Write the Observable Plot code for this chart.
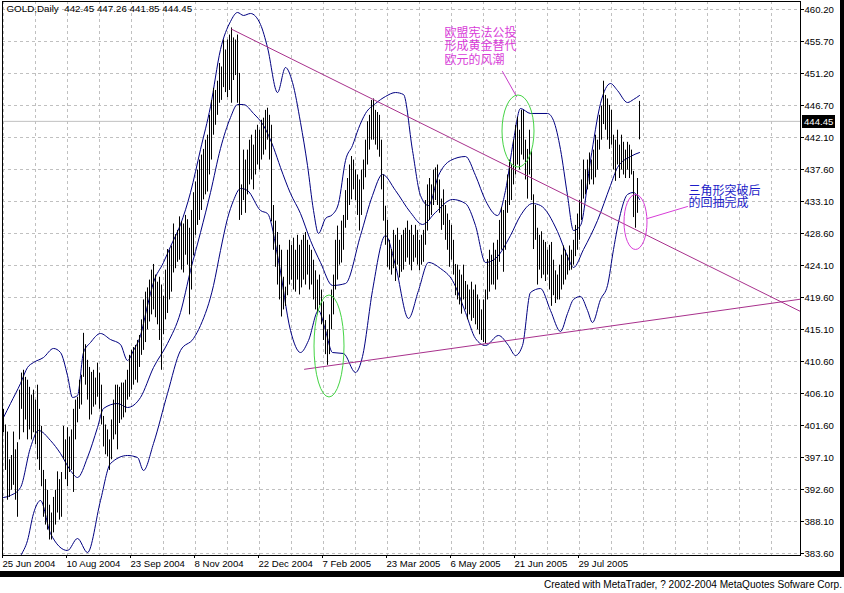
<!DOCTYPE html>
<html><head><meta charset="utf-8">
<script src="https://cdn.jsdelivr.net/npm/d3@7"></script>
<script src="https://cdn.jsdelivr.net/npm/@observablehq/plot@0.6"></script>
<style>
body{margin:0;background:#fff;}
#wrap{position:relative;width:844px;height:593px;overflow:hidden;background:#fff;font-family:'Liberation Sans',Arial,sans-serif;}
#bottomBar{position:absolute;left:0;top:571px;width:844px;height:6px;background:#000;}
#rightBar{position:absolute;left:840px;top:0;width:4px;height:577px;background:#000;}
#footer{position:absolute;right:2px;top:579px;font-size:10.1px;color:#000;white-space:nowrap;}
#priceTag{position:absolute;left:802px;width:33px;height:13px;background:#000;color:#fff;font-size:9.6px;line-height:13px;padding-left:2px;box-sizing:border-box;}
</style></head><body><div id="wrap"><div id="chart"></div><div id="rightBar"></div><div id="bottomBar"></div><div id="priceTag"></div><div id="footer">Created with MetaTrader, ? 2002-2004 MetaQuotes Sofware Corp.</div></div>
<script>
// ---- data ----
const symbolTitle = "GOLD,Daily";
const lastOpen = 442.45, lastClose = 444.45;
const highs = [
403.9,401.7,400.7,396.8,397.4,400.7,398.2,399.2,406.6,409.0,
409.4,408.4,408.0,407.0,405.9,406.6,405.2,407.3,403.9,401.5,
395.3,394.0,392.5,390.4,389.3,391.5,392.5,395.1,394.0,395.0,
401.5,399.6,401.3,400.0,401.0,403.9,405.2,405.6,408.0,408.7,
414.6,413.0,410.8,409.8,409.1,409.4,408.3,410.4,409.0,407.3,
402.9,401.7,401.0,399.6,402.4,405.2,407.3,407.3,407.0,407.6,
407.6,408.0,409.4,411.5,412.2,412.6,412.9,413.6,414.3,416.5,
419.3,420.4,421.0,422.1,423.5,424.3,422.8,421.8,422.5,421.4,
419.8,423.5,426.4,426.3,426.9,430.0,428.5,429.1,431.0,430.3,
430.0,431.2,430.6,429.4,431.9,434.4,435.9,437.6,439.0,439.7,
440.5,441.8,442.5,445.3,447.4,449.1,448.8,450.1,452.6,452.1,
455.9,454.5,455.9,456.6,457.6,456.2,455.9,456.6,451.2,435.5,
440.4,439.0,440.4,441.8,442.5,441.1,443.2,443.9,443.2,444.6,
444.9,446.0,446.3,445.3,443.9,432.6,430.4,428.8,427.0,426.3,
422.5,421.1,426.3,427.7,427.0,428.0,426.3,428.4,427.0,427.7,
428.4,428.8,427.7,427.0,426.3,424.9,423.4,422.1,422.8,420.7,
419.0,416.4,415.1,417.2,420.7,422.8,427.7,429.7,427.7,430.4,
431.2,434.7,436.4,438.3,439.5,439.0,437.6,436.9,436.2,437.6,
439.0,441.8,444.4,445.3,447.4,447.6,446.0,445.7,445.3,441.8,
436.9,432.5,430.5,427.7,426.4,429.1,428.4,429.4,427.7,428.4,
429.1,429.4,430.4,429.1,429.8,428.4,429.8,429.1,427.7,428.4,
429.1,433.3,435.5,436.4,435.5,437.6,437.9,438.3,436.2,433.5,
434.8,432.6,431.4,430.5,429.8,427.7,424.3,424.2,423.5,422.8,
424.2,421.9,421.4,420.7,421.8,420.7,421.4,420.0,419.3,417.9,
419.3,420.7,425.0,426.3,425.6,427.3,426.3,427.7,430.5,432.3,
431.9,433.3,436.9,439.0,438.3,441.8,443.9,445.0,443.2,446.0,
446.0,441.8,440.5,443.2,440.4,434.1,432.6,429.4,428.4,428.9,
427.7,427.4,426.3,427.0,427.4,424.9,423.4,422.8,424.2,425.6,
426.9,426.3,425.6,426.9,426.3,427.7,429.8,431.4,433.3,436.2,
439.0,437.6,439.0,440.0,439.0,440.4,442.5,441.8,445.3,446.6,
450.1,448.1,447.6,446.7,446.0,442.5,441.8,443.2,441.1,442.5,
441.5,440.4,441.5,441.1,440.4,437.4,434.1,436.4,447.26];
const lows = [
400.6,395.3,391.1,391.5,392.5,393.2,391.1,388.7,399.6,403.9,
400.6,402.4,399.6,401.0,399.6,400.6,398.9,396.8,395.3,393.0,
388.7,387.6,386.9,385.5,385.5,386.5,387.6,389.3,388.3,388.7,
396.8,394.0,393.0,395.0,395.3,392.2,399.6,402.0,403.9,404.5,
408.4,407.3,405.2,402.4,403.1,404.2,404.5,405.6,403.9,401.7,
398.6,397.5,397.2,395.3,396.8,399.6,400.3,398.2,401.9,402.4,
402.7,403.4,405.2,405.6,406.6,407.3,408.0,407.6,409.8,411.5,
412.2,413.3,415.1,416.2,417.2,417.9,416.8,415.8,413.6,409.4,
414.4,416.5,417.4,419.3,420.4,423.1,423.7,424.6,424.9,423.5,
423.1,425.6,424.2,417.2,420.7,425.5,428.4,429.8,430.5,431.9,
433.4,434.1,434.5,436.9,439.0,442.5,443.9,445.3,447.0,447.4,
449.2,448.5,447.8,448.8,447.0,450.2,450.9,447.0,430.5,431.2,
433.3,431.5,434.1,435.5,436.2,434.8,436.9,438.3,437.6,439.0,
439.7,440.4,441.8,439.0,430.3,426.3,423.9,421.4,419.3,416.9,
417.9,418.4,419.9,421.4,422.1,420.7,420.4,422.1,420.0,421.0,
422.1,421.4,422.8,420.7,421.4,419.3,417.9,417.2,418.5,415.8,
413.6,411.6,410.1,411.6,415.1,417.2,420.7,422.1,424.2,424.5,
426.3,429.4,430.5,432.6,433.4,434.8,433.3,431.2,429.0,431.2,
434.8,436.5,438.3,440.4,441.8,441.8,441.1,440.4,439.4,434.8,
430.4,427.0,423.9,423.5,422.8,423.7,421.9,424.2,422.4,423.2,
423.5,424.6,425.2,424.2,423.4,424.6,425.2,424.2,423.4,424.2,
424.6,427.0,429.0,430.5,431.2,432.6,433.3,432.6,431.5,429.1,
429.8,427.7,426.3,423.9,424.9,422.8,419.9,419.3,418.6,417.3,
419.3,417.9,416.5,417.2,416.3,416.7,415.8,415.1,414.4,413.6,
413.3,413.1,419.3,420.4,421.4,421.4,420.7,422.1,424.6,426.3,
423.2,426.3,431.5,432.6,433.3,435.5,436.9,438.3,437.6,439.7,
439.0,436.2,433.5,436.9,433.3,426.4,427.7,421.4,423.5,422.3,
422.8,421.9,422.8,420.7,418.4,419.9,418.8,419.3,419.3,420.7,
421.4,422.1,422.8,423.4,423.5,424.2,425.4,426.3,427.7,430.5,
433.5,434.1,434.8,435.5,436.2,435.5,436.5,437.6,440.4,441.8,
444.0,443.2,441.8,440.5,441.1,437.6,436.0,438.3,436.4,437.6,
436.9,436.4,437.6,436.4,436.9,430.9,429.4,431.5,441.85];

// Bollinger bands (bar index, price)
const upperBars = [0,3.5,8.5,12,15,20,25,28.5,32,34.5,37,40,43.5,48.5,53.5,58.5,62,65,68.5,72,75,80,83.5,88.5,93.5,98.5,103.5,108.5,113.5,117,120,123.5,128.5,132,137,141,144.5,148.5,152,155,157.5,161,164.5,167.5,171,174.5,177.5,181,186,191,196,200,204.5,208.5,212.5,217.5,223.5,231,236,241,247,251,255,258.5,263.5,272,275,278.5,282,285,288.5,293.5,298.5,303.5,307,312,315,318];
const upperVals = [402.75,404.72,407.54,409.79,410.49,411.2,412.47,411.9,408.66,405.57,405.85,411.9,413.31,414.58,413.73,413.03,410.78,412.18,414.3,418.52,421.76,424.58,426.83,429.93,434.43,440.49,446.54,454.57,458.51,459.78,459.36,459.64,458.09,454.85,448.51,452.03,449.92,444.29,438.23,431.9,428.66,430.77,431.33,432.88,438.94,441.05,443.44,445.56,446.96,447.95,448.51,448.23,440.35,434.01,432.6,436.83,438.94,439.5,436.83,433.31,431.19,434.71,441.75,446.26,445.56,445.56,444.57,440.49,434.01,429.08,429.78,438.94,446.96,449.78,448.79,447.1,447.53,448.09];
const middleBars = [0,3.5,8.5,13.5,17.5,23.5,28.5,33.5,37,42,47,50,57,62,68.5,75,82,88.5,93.5,98.5,103.5,108.5,113.5,117,120,125,130,135,138.5,143.5,148.5,153.5,158.5,164.5,171,178.5,184.5,189.5,196,203.5,209.5,216,224.5,231,236,241,246,253.5,258.5,264.5,268.5,277,282,285,290,297,303.5,307,313.5,318];
const middleVals = [391.48,391.77,392.89,398.53,400.92,399.51,397.68,395.29,394.3,397.12,401.34,404.02,404.72,404.16,405.57,409.79,413.17,417.54,423.45,428.8,434.43,440.63,444.99,446.82,446.82,445.56,443.87,440.77,437.95,434.29,431.47,427.67,424.58,421.34,421.62,428.38,434.01,436.97,434.71,431.62,429.93,431.62,433.45,432.88,429.78,424.58,425.14,428.38,431.19,432.88,432.6,428.94,425.42,423.87,426.41,430.49,435.42,437.95,439.5,440.06];
const lowerBars = [0,5,8.5,12,15,18.5,23.5,32,37,42,48.5,53.5,62,67,70,75,82,88.5,95,98.5,105,108.5,112,115,118.5,122,128.5,132,137.5,143.5,148.5,152.5,157.5,161,164.5,170,176,179.5,184.5,191,196,202.5,207.5,212.5,218.5,224.5,231,236,241,247.5,252.5,256,259.5,263.5,268.5,273.5,278.5,282,285,288.5,292,294.5,298.5,302,305,308.5,312,315,318];
const lowerVals = [379.1,380.92,383.18,385.43,389.23,391.06,386.42,384.02,385.71,383.74,391.06,396.27,397.4,397.12,395.29,399.09,406.13,412.18,413.87,415.7,421.34,426.27,430.77,433.31,435.0,434.71,431.9,431.47,424.86,415.0,411.9,413.59,417.82,415.0,411.9,411.76,409.09,411.34,420.63,428.38,424.15,416.69,420.63,424.58,423.73,422.04,417.54,413.87,412.89,414.3,412.89,411.48,412.89,420.35,420.91,417.82,414.86,417.39,419.37,419.79,417.82,416.13,419.37,421.34,426.41,431.47,434.15,434.43,433.45];

// axis labels
const priceTicks = [460.20,455.70,451.20,446.70,442.10,437.60,433.10,428.60,424.10,419.60,415.10,410.60,406.10,401.60,397.10,392.60,388.10,383.60];
const dateLabels = ["25 Jun 2004","10 Aug 2004","23 Sep 2004","8 Nov 2004","22 Dec 2004","7 Feb 2005","23 Mar 2005","6 May 2005","21 Jun 2005","29 Jul 2005"];
const dateBars = [0,32,64,96,128,160,192,224,256,288];
const gridBars = [0,16,32,48,64,80,96,112,128,144,160,176,192,208,224,240,256,272,288,304,320,336,352,368,384];

// drawn objects (bar index, price)
const trendStartBar = [114, 150.5];
const trendStartPrice = [457.43, 409.54];
const trendEndBar = [398.5, 398.5];
const trendEndPrice = [417.68, 419.41];
const ellipseBar = [163, 257.5, 316.25];
const ellipsePrice = [412.75, 443.02, 430.21];
const ellipseRBars = [7.5, 8, 5.75];
const ellipseRPrice = [7.18, 5.07, 3.87];
const ellipseColor = ["#44d444", "#44d444", "#d83cd8"];
const pointerBars = [[249.5, 256.5], [322, 342]];
const pointerPrices = [[451.47, 447.95], [430.77, 432.46]];
const noteTexts = ["欧盟宪法公投\n形成黄金替代\n欧元的风潮", "三角形突破后\n的回抽完成"];
const noteBar = [220.5, 342.5];
const notePrice = [457.67, 435.28];
const noteColor = ["#d83cd8", "#1c1cc8"];
const noteLineHeight = [1.12, 1.02];

// ---- build ----
const pxPerUnit = 544 / (priceTicks[0] - priceTicks[priceTicks.length - 1]);
const yTop = priceTicks[0] + 8 / pxPerUnit;
const yBot = priceTicks[priceTicks.length - 1] - 2 / pxPerUnit;
const nT = priceTicks.length - 1;
const tickPos = priceTicks.map((_, i) => priceTicks[0] - i * (priceTicks[0] - priceTicks[nT]) / nT);
const labelOf = new Map(tickPos.map((p, i) => [p, priceTicks[i].toFixed(2)]));
const dateOf = new Map(dateBars.map((b, i) => [b, dateLabels[i]]));

const bars = highs.map((h, i) => ({i, high: h, low: lows[i]}));
const series = (bs, vs) => bs.map((b, j) => ({b, v: vs[j]}));
const trends = trendStartBar.map((b, j) => [{b, v: trendStartPrice[j]}, {b: trendEndBar[j], v: trendEndPrice[j]}]);
const pointers = pointerBars.map((bs, j) => bs.map((b, k) => ({b, v: pointerPrices[j][k], j})));

const bandColor = "#000080";
const trendColor = "#a8308c";
const grid = {stroke: "#c0c0c0", strokeDasharray: "3,3", strokeWidth: 1};

const chart = Plot.plot({
  width: 844, height: 571,
  marginLeft: 2, marginRight: 44, marginTop: 1, marginBottom: 16,
  style: {fontFamily: "'Liberation Sans', Arial, sans-serif", fontSize: "9.6px", color: "#000", background: "#fff", overflow: "visible"},
  x: {type: "linear", domain: [-0.5, 398.5]},
  y: {type: "linear", domain: [yBot, yTop]},
  marks: [
    Plot.ruleY(tickPos, grid),
    Plot.ruleX(gridBars, grid),
    Plot.ruleY([lastClose], {stroke: "#c0c0c0", strokeWidth: 1}),
    Plot.line(series(upperBars, upperVals), {x: "b", y: "v", stroke: bandColor, strokeWidth: 1, curve: "monotone-x", clip: true}),
    Plot.line(series(middleBars, middleVals), {x: "b", y: "v", stroke: bandColor, strokeWidth: 1, curve: "monotone-x", clip: true}),
    Plot.line(series(lowerBars, lowerVals), {x: "b", y: "v", stroke: bandColor, strokeWidth: 1, curve: "monotone-x", clip: true}),
    Plot.ruleX(bars, {x: "i", y1: "low", y2: "high", stroke: "#000", strokeWidth: 1, clip: true}),
    ...trends.map(t => Plot.line(t, {x: "b", y: "v", stroke: trendColor, strokeWidth: 1, clip: true})),
    ...pointers.map((p, j) => Plot.line(p, {x: "b", y: "v", stroke: j === 0 ? "#c83cc8" : "#d83cd8", strokeWidth: 1})),
    ...noteTexts.map((t, j) => Plot.text([t], {x: () => noteBar[j], y: () => notePrice[j], text: d => d, fill: noteColor[j],
      textAnchor: "start", lineAnchor: "top", lineHeight: noteLineHeight[j],
      fontFamily: "'Noto Sans CJK SC', sans-serif", fontSize: 12})),
    Plot.text([`${symbolTitle}  ${lastOpen.toFixed(2)} ${highs[highs.length-1].toFixed(2)} ${lows[lows.length-1].toFixed(2)} ${lastClose.toFixed(2)}`],
      {frameAnchor: "top-left", dx: 4, dy: 4, lineAnchor: "top", textAnchor: "start", fill: "#000", fontSize: 9.8}),
    Plot.frame({stroke: "#000"}),
    Plot.axisY(tickPos, {anchor: "right", tickSize: 3, tickPadding: 1, label: null, tickFormat: d => labelOf.get(d)}),
    Plot.axisX(dateBars, {anchor: "bottom", tickSize: 3, tickPadding: 2, label: null, textAnchor: "start", dx: -1, tickFormat: d => dateOf.get(d)})
  ]
});
document.getElementById("chart").appendChild(chart);

// ellipses and price tag via the plot's own scales
const sx = chart.scale("x"), sy = chart.scale("y");
const svg = d3.select(chart);
ellipseBar.forEach((b, j) => {
  const cx = sx.apply(b), cy = sy.apply(ellipsePrice[j]);
  svg.append("ellipse")
    .attr("cx", cx).attr("cy", cy)
    .attr("rx", Math.abs(sx.apply(b + ellipseRBars[j]) - cx))
    .attr("ry", Math.abs(sy.apply(ellipsePrice[j] + ellipseRPrice[j]) - cy))
    .attr("fill", "none").attr("stroke", ellipseColor[j]).attr("stroke-width", 1);
});
const tag = document.getElementById("priceTag");
tag.textContent = lastClose.toFixed(2);
tag.style.top = (Math.round(sy.apply(lastClose)) - 6) + "px";
</script></body></html>
